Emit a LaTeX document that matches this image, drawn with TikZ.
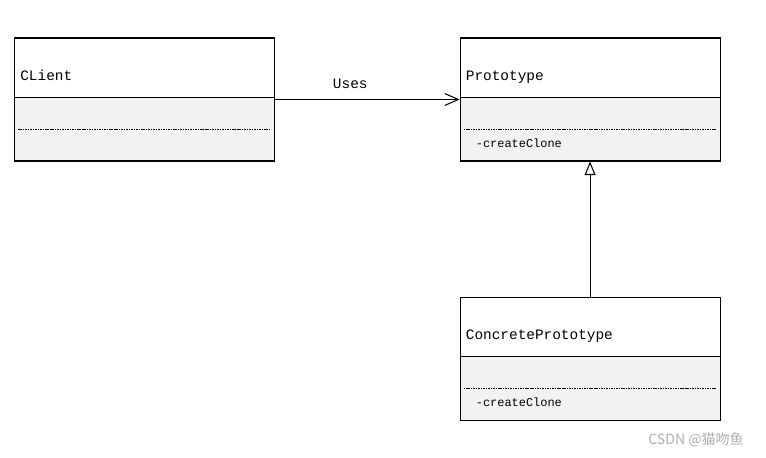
\documentclass[tikz,border=0pt]{standalone}
\usepackage{fontspec}
\setmonofont{Liberation Mono}
\newfontfamily\cjkfont{Noto Sans CJK SC}
\usetikzlibrary{arrows.meta,positioning}
\definecolor{compgray}{RGB}{242,242,242}
\definecolor{markgray}{RGB}{175,175,175}
\tikzset{%
  classbox/.style={draw, line width=0.6pt, minimum width=5.2cm, minimum height=2.46cm, inner sep=0pt,%
    path picture={\fill[compgray] ([yshift=-1.2cm]path picture bounding box.north west) rectangle (path picture bounding box.south east);}},%
  classname/.style={anchor=base west, inner sep=0pt, font=\ttfamily\fontsize{8.2}{10}\selectfont},%
  methodname/.style={anchor=base west, inner sep=0pt, font=\ttfamily\fontsize{6.8}{8}\selectfont},%
  sepline/.style={line width=0.6pt},%
  dotline/.style={line width=0.35pt, dash pattern=on 0.9pt off 0.5pt},%
  uses/.style={line width=0.6pt, -{Straight Barb[length=0.27cm, width=0.24cm]}},%
  inherits/.style={line width=0.6pt, -{Triangle[open, length=0.27cm, width=0.22cm, fill=white]}}%
}
\begin{document}
\begin{tikzpicture}[node distance=3.69cm]%
\useasboundingbox (0,0) rectangle (15.32,-9.14);%
% class boxes
\node[classbox] (client) at (2.89,-1.99) {};%
\node[classbox, right=of client] (proto) {};%
\node[classbox, below=2.7cm of proto] (concrete) {};%
% names, compartments
\foreach \c/\t in {client/CLient, proto/Prototype, concrete/ConcretePrototype} {%
  \node[classname] (\c name) at ([xshift=0.12cm, yshift=-0.86cm]\c.north west) {\t};%
  \draw[sepline] ([yshift=-1.2cm]\c.north west) -- ([yshift=-1.2cm]\c.north east);%
  \draw[dotline] ([xshift=0.08cm, yshift=-1.84cm]\c.north west) -- ([xshift=-0.08cm, yshift=-1.84cm]\c.north east);%
}%
\node[methodname] (protoop) at ([xshift=0.32cm, yshift=-2.2cm]proto.north west) {-createClone};%
\node[methodname] (concreteop) at ([xshift=0.32cm, yshift=-2.2cm]concrete.north west) {-createClone};%
% relations
\draw[uses] (client) -- node[above=0.09cm, xshift=-0.34cm, font=\ttfamily\fontsize{8.2}{10}\selectfont] (useslabel) {Uses} (proto);%
\draw[inherits] (concrete) -- (proto);%
% watermark
\node[anchor=east, text=markgray, font=\cjkfont\fontsize{8}{9}\selectfont] (mark) at (15.0,-8.8) {CSDN @猫吻鱼};%
\end{tikzpicture}
\end{document}
